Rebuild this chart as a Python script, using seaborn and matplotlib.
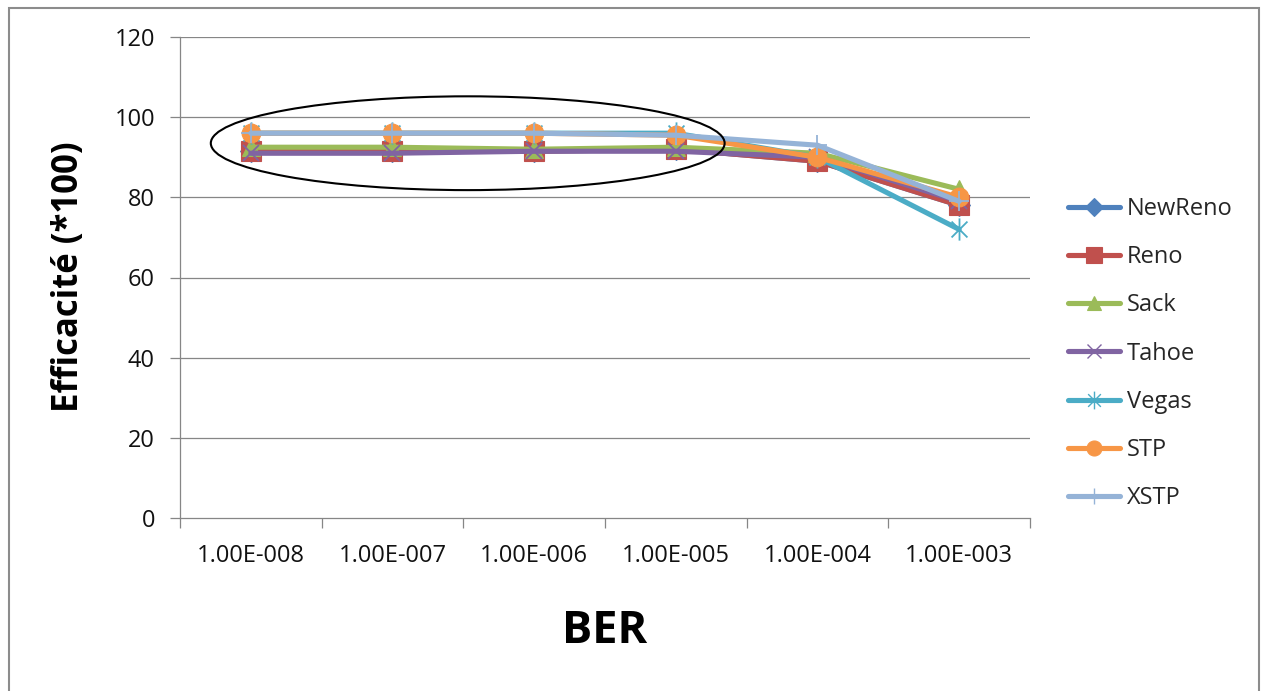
import numpy as np
import pandas as pd
import seaborn as sns
import matplotlib
matplotlib.use("Agg")
import matplotlib.pyplot as plt
from matplotlib.patches import Ellipse, Rectangle
from matplotlib.lines import Line2D
from matplotlib.path import Path

# BER values (x categories)
ber_labels = ["1.00E-008", "1.00E-007", "1.00E-006", "1.00E-005", "1.00E-004", "1.00E-003"]

# Efficiency (*100) per TCP variant
newreno = [91.5, 91.5, 91.5, 92.0, 89.0, 78.0]
reno = [91.5, 91.5, 91.5, 92.0, 89.0, 78.0]
sack = [92.5, 92.5, 92.0, 92.5, 91.0, 82.0]
tahoe = [91.0, 91.0, 91.5, 91.5, 90.0, 79.0]
vegas = [96.0, 96.0, 96.0, 96.0, 90.0, 72.0]
stp = [96.0, 96.0, 96.0, 95.5, 90.0, 80.0]
xstp = [96.0, 96.0, 96.0, 95.5, 93.0, 79.0]

series_names = ["NewReno", "Reno", "Sack", "Tahoe", "Vegas", "STP", "XSTP"]
series_values = [newreno, reno, sack, tahoe, vegas, stp, xstp]

colors = {
    "NewReno": "#4F81BD",
    "Reno": "#C0504D",
    "Sack": "#9BBB59",
    "Tahoe": "#8064A2",
    "Vegas": "#4BACC6",
    "STP": "#F79646",
    "XSTP": "#95B3D7",
}

# asterisk: an X with a vertical bar
ast_path = Path(
    [(-0.5, -0.5), (0.5, 0.5), (-0.5, 0.5), (0.5, -0.5), (0, -0.7), (0, 0.7)],
    [Path.MOVETO, Path.LINETO, Path.MOVETO, Path.LINETO, Path.MOVETO, Path.LINETO],
)
markers = {
    "NewReno": "D",
    "Reno": "s",
    "Sack": "^",
    "Tahoe": "x",
    "Vegas": ast_path,
    "STP": "o",
    "XSTP": "+",
}
msizes = {"NewReno": 11, "Reno": 14, "Sack": 13, "Tahoe": 12, "Vegas": 16, "STP": 13.5, "XSTP": 15}
line_art = ("Tahoe", "Vegas", "XSTP")

rows = []
for name, vals in zip(series_names, series_values):
    for i, v in enumerate(vals):
        rows.append({"BER": i, "Efficacite": v, "Protocole": name})
df = pd.DataFrame(rows)

sns.set_theme(style="white")
plt.rcParams["font.family"] = ["Open Sans", "DejaVu Sans"]

fig = plt.figure(figsize=(12.62, 6.91), dpi=100)
ax = fig.add_axes([180 / 1262, 1 - 518 / 691, 850 / 1262, 481 / 691])

grid_c = "#868686"
for yv in range(20, 121, 20):
    ax.axhline(yv, color=grid_c, lw=0.9, zorder=0)

LW = 3.7
handles = []
for name in series_names:
    c = colors[name]
    sub = df[df["Protocole"] == name]
    style = dict(marker=markers[name], markersize=msizes[name], markeredgecolor=c)
    if name in line_art:
        style.update(markerfacecolor="none", markeredgewidth=1.3)
    else:
        style.update(markerfacecolor=c, markeredgewidth=0.8)
    sns.lineplot(data=sub, x="BER", y="Efficacite", color=c, lw=LW, ax=ax,
                 legend=False, solid_capstyle="round", solid_joinstyle="round", **style)
    hstyle = dict(style)
    hstyle["markersize"] = msizes[name] * 0.8
    if name in line_art:
        hstyle["markeredgewidth"] = 1.0
    handles.append(Line2D([], [], color=c, lw=LW, solid_capstyle="round", label=name, **hstyle))

ax.set_xlim(-0.5, 5.5)
ax.set_ylim(0, 120)
ax.set_yticks(range(0, 121, 20))
ax.set_xticks(range(6))
ax.set_xticklabels(ber_labels)
ax.set_xticks(np.arange(-0.5, 5.6, 1.0), minor=True)
ax.tick_params(axis="x", which="major", length=0, pad=19, labelsize=17, labelcolor="#111111")
ax.tick_params(axis="x", which="minor", length=7, width=0.9, color=grid_c, direction="out", bottom=True)
ax.tick_params(axis="y", which="major", length=7, width=0.9, color=grid_c, direction="out", left=True,
               pad=11, labelsize=17, labelcolor="#111111")

for side in ("top", "right"):
    ax.spines[side].set_visible(False)
for side in ("left", "bottom"):
    ax.spines[side].set_color(grid_c)
    ax.spines[side].set_linewidth(0.9)

ax.set_xlabel("BER", fontsize=32.5, fontweight="bold", color="black")
ax.xaxis.set_label_coords(0.5, -0.235)
ax.xaxis.label.set_va("center")
ax.set_ylabel("Efficacité (*100)", fontsize=25, fontweight="bold", color="black")
ax.yaxis.set_label_coords(-0.1306, 0.502)
ax.yaxis.label.set_va("center")

# highlight of the low-BER region
ell = Ellipse((1.531, 93.5), width=3.627, height=23.4, fill=False,
              edgecolor="black", lw=1.5, zorder=5)
ax.add_patch(ell)

# legend on the right
ax.legend(handles=handles, loc="upper left", bbox_to_anchor=(1068 / 1262, 1 - 197 / 691),
          bbox_transform=fig.transFigure, frameon=False, fontsize=17,
          handlelength=2.2, handletextpad=0.3, labelspacing=1.025, borderpad=0, borderaxespad=0)

# outer chart border
fig.add_artist(Rectangle((9 / 1262, -0.05), 1250 / 1262, 1.05 - 8 / 691,
                         transform=fig.transFigure, fill=False, edgecolor="#8c8c8c", lw=1.5))

fig.savefig("out.png", dpi=100)
